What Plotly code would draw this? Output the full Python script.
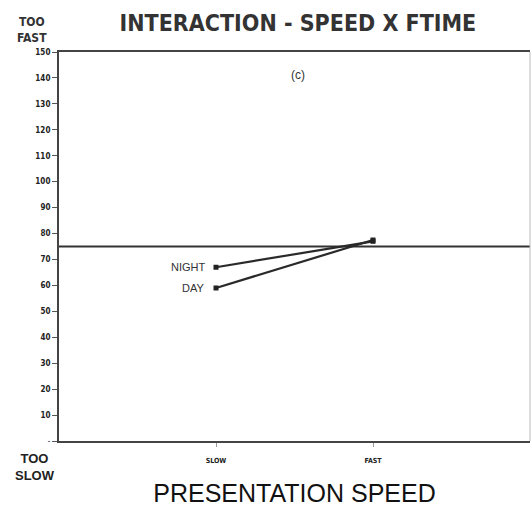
import plotly.graph_objects as go

speed_cats = [1, 2]
speed_labels = ["SLOW", "FAST"]
night_vals = [67, 77]
day_vals = [59, 77.5]
ref_value = 75
y_ticks = list(range(0, 151, 10))
y_ticktext = ["-"] + ["<b>" + str(v) + "</b>" for v in range(10, 151, 10)]

fig = go.Figure()
fig.add_trace(go.Scatter(x=[0, 3], y=[ref_value, ref_value], mode="lines",
                         line=dict(color="#333333", width=2.2), showlegend=False, hoverinfo="skip"))
fig.add_trace(go.Scatter(x=speed_cats, y=night_vals, mode="lines+markers",
                         line=dict(color="#2a2a2a", width=2.2),
                         marker=dict(symbol="square", size=5, color="#222222"), showlegend=False))
fig.add_trace(go.Scatter(x=speed_cats, y=day_vals, mode="lines+markers",
                         line=dict(color="#2a2a2a", width=2.2),
                         marker=dict(symbol="square", size=5, color="#222222"), showlegend=False))

fig.add_annotation(x=1, y=night_vals[0], xref="x", yref="y", text="NIGHT", showarrow=False,
                   xanchor="right", xshift=-8, font=dict(family="Liberation Sans", size=11, color="#333"))
fig.add_annotation(x=1, y=day_vals[0], xref="x", yref="y", text="DAY", showarrow=False,
                   xanchor="right", xshift=-10, font=dict(family="Liberation Sans", size=11, color="#333"))
fig.add_annotation(x=(298 - 59) / 471, y=(441 - 75) / 389, xref="paper", yref="paper", text="(c)",
                   showarrow=False, yanchor="middle",
                   font=dict(family="Liberation Sans", size=12, color="#333"))

fig.add_shape(type="line", xref="paper", yref="paper", x0=1, x1=1, y0=0, y1=1,
              line=dict(color="#bbbbbb", width=1))

fig.update_layout(
    width=532, height=516,
    margin=dict(l=59, r=2, t=52, b=75),
    paper_bgcolor="white", plot_bgcolor="white",
    title=dict(text="<b>INTERACTION - SPEED X FTIME</b>", x=0.56, xanchor="center", y=1 - 23/516,
               yanchor="middle", font=dict(family="DejaVu Sans Condensed", size=23, color="#333")),
    xaxis=dict(range=[0, 3], tickvals=speed_cats, ticktext=["<b>" + t + "</b>" for t in speed_labels],
               showgrid=False, zeroline=False, showline=True, mirror=True, linecolor="#444", linewidth=2,
               ticks="outside", ticklen=4, tickcolor="#999", ticklabelstandoff=8,
               tickfont=dict(family="DejaVu Sans Condensed", size=7, color="#222"),
               title=dict(text="PRESENTATION SPEED", standoff=20,
                          font=dict(family="Liberation Sans", size=25, color="#111"))),
    yaxis=dict(range=[0, 150], tickvals=y_ticks, ticktext=y_ticktext,
               showgrid=False, zeroline=False, showline=True, linecolor="#444", linewidth=2,
               ticks="outside", ticklen=5, tickcolor="#555",
               tickfont=dict(family="DejaVu Sans Condensed", size=8, color="#222")),
)

fig.add_annotation(x=(32 - 59) / 471, y=(441 - 30) / 389, xref="paper", yref="paper",
                   xanchor="center", yanchor="middle",
                   text="<b>TOO<br>FAST</b>", showarrow=False,
                   font=dict(family="DejaVu Sans Condensed", size=12, color="#333"), align="center")
fig.add_annotation(x=(35 - 59) / 471, y=(441 - 467) / 389, xref="paper", yref="paper",
                   xanchor="center", yanchor="middle",
                   text="<b>TOO<br>SLOW</b>", showarrow=False,
                   font=dict(family="Liberation Sans", size=13, color="#222"), align="center")

fig.write_html("out.html")
